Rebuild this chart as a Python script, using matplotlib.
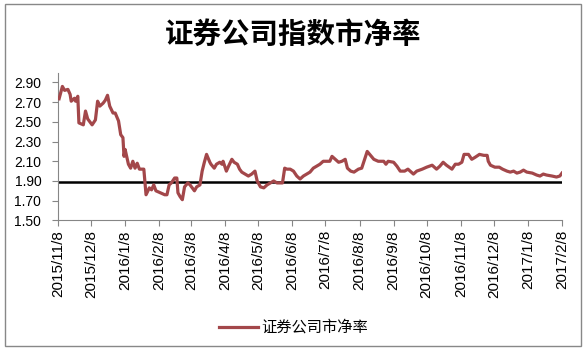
import matplotlib
matplotlib.use("Agg")
import matplotlib.pyplot as plt
from matplotlib.patches import Rectangle
import pandas as pd

plt.rcParams['font.family'] = ['Liberation Sans', 'Noto Sans CJK SC', 'DejaVu Sans']

# 证券公司指数市净率
dates = [
    "2015-11-09", "2015-11-12", "2015-11-14", "2015-11-17", "2015-11-19", "2015-11-20",
    "2015-11-23", "2015-11-24", "2015-11-26", "2015-11-27", "2015-12-01", "2015-12-03",
    "2015-12-05", "2015-12-09", "2015-12-12", "2015-12-14", "2015-12-16", "2015-12-19",
    "2015-12-21", "2015-12-23", "2015-12-25", "2015-12-28", "2015-12-30", "2016-01-02",
    "2016-01-04", "2016-01-06", "2016-01-07", "2016-01-08", "2016-01-11", "2016-01-13",
    "2016-01-15", "2016-01-17", "2016-01-19", "2016-01-21", "2016-01-24", "2016-01-25",
    "2016-01-27", "2016-01-30", "2016-02-01", "2016-02-03", "2016-02-05", "2016-02-09",
    "2016-02-13", "2016-02-15", "2016-02-17", "2016-02-19", "2016-02-22", "2016-02-24",
    "2016-02-25", "2016-02-27", "2016-02-29", "2016-03-02", "2016-03-05", "2016-03-07",
    "2016-03-09", "2016-03-11", "2016-03-13", "2016-03-16", "2016-03-18", "2016-03-20",
    "2016-03-22", "2016-03-25", "2016-03-26", "2016-03-29", "2016-03-31", "2016-04-03",
    "2016-04-05", "2016-04-06", "2016-04-09", "2016-04-11", "2016-04-14", "2016-04-16",
    "2016-04-19", "2016-04-21", "2016-04-23", "2016-04-26", "2016-04-29", "2016-05-02",
    "2016-05-05", "2016-05-07", "2016-05-10", "2016-05-13", "2016-05-16", "2016-05-19",
    "2016-05-22", "2016-05-25", "2016-05-28", "2016-05-30", "2016-06-01", "2016-06-03",
    "2016-06-06", "2016-06-09", "2016-06-12", "2016-06-15", "2016-06-18", "2016-06-21",
    "2016-06-24", "2016-06-27", "2016-06-30", "2016-07-03", "2016-07-06", "2016-07-09",
    "2016-07-12", "2016-07-14", "2016-07-17", "2016-07-20", "2016-07-23", "2016-07-26",
    "2016-07-28", "2016-07-31", "2016-08-03", "2016-08-07", "2016-08-10", "2016-08-15",
    "2016-08-18", "2016-08-21", "2016-08-25", "2016-08-30", "2016-09-01", "2016-09-03",
    "2016-09-08", "2016-09-11", "2016-09-14", "2016-09-18", "2016-09-21", "2016-09-24",
    "2016-09-26", "2016-09-29", "2016-10-04", "2016-10-08", "2016-10-13", "2016-10-17",
    "2016-10-20", "2016-10-23", "2016-10-26", "2016-10-31", "2016-11-03", "2016-11-06",
    "2016-11-09", "2016-11-11", "2016-11-15", "2016-11-18", "2016-11-21", "2016-11-25",
    "2016-11-29", "2016-12-02", "2016-12-03", "2016-12-05", "2016-12-09", "2016-12-13",
    "2016-12-16", "2016-12-20", "2016-12-23", "2016-12-26", "2016-12-29", "2017-01-01",
    "2017-01-04", "2017-01-07", "2017-01-12", "2017-01-16", "2017-01-19", "2017-01-22",
    "2017-01-25", "2017-01-30", "2017-02-03", "2017-02-06", "2017-02-08",
]
pb = [
    2.735, 2.86, 2.82, 2.83, 2.78, 2.71,
    2.74, 2.71, 2.76, 2.49, 2.47, 2.61,
    2.53, 2.47, 2.52, 2.71, 2.66, 2.69,
    2.72, 2.77, 2.66, 2.59, 2.59, 2.51,
    2.37, 2.34, 2.15, 2.22, 2.07, 2.03,
    2.10, 2.03, 2.08, 2.02, 2.02, 2.02,
    1.76, 1.83, 1.81, 1.86, 1.80, 1.78,
    1.76, 1.76, 1.86, 1.88, 1.93, 1.93,
    1.78, 1.74, 1.71, 1.84, 1.88, 1.86,
    1.83, 1.80, 1.84, 1.86, 2.00, 2.09,
    2.17, 2.09, 2.07, 2.03, 2.07, 2.09,
    2.07, 2.10, 2.00, 2.05, 2.12, 2.09,
    2.07, 2.02, 1.99, 1.97, 1.95, 1.97,
    2.00, 1.90, 1.84, 1.83, 1.86, 1.88,
    1.90, 1.88, 1.88, 1.88, 2.03, 2.02,
    2.02, 2.00, 1.95, 1.92, 1.95, 1.97,
    1.99, 2.03, 2.05, 2.07, 2.10, 2.10,
    2.10, 2.15, 2.12, 2.09, 2.10, 2.12,
    2.03, 2.00, 1.99, 2.02, 2.03, 2.20,
    2.16, 2.12, 2.10, 2.10, 2.07, 2.10,
    2.09, 2.05, 2.00, 2.00, 2.02, 1.99,
    1.97, 2.00, 2.02, 2.04, 2.06, 2.02,
    2.05, 2.09, 2.06, 2.02, 2.07, 2.07,
    2.09, 2.17, 2.17, 2.12, 2.14, 2.17,
    2.16, 2.16, 2.10, 2.06, 2.04, 2.04,
    2.02, 2.00, 1.99, 2.00, 1.98, 1.99,
    2.01, 1.99, 1.98, 1.96, 1.95, 1.97,
    1.96, 1.95, 1.94, 1.95, 1.98,
]
ref_level = 1.89
y_ticks = [1.50, 1.70, 1.90, 2.10, 2.30, 2.50, 2.70, 2.90]
x_start, x_end = "2015-11-08", "2017-02-08"

x = pd.to_datetime(dates)
# monthly ticks on the 8th
month_ticks = pd.date_range("2015-11-01", x_end, freq="MS") + pd.Timedelta(days=7)

fig = plt.figure(figsize=(5.87, 3.52), dpi=100)
ax = fig.add_axes([0.0988, 0.374, 0.8586, 0.4196])

ax.plot(x, pb, color="#A3474A", linewidth=2.3, label="证券公司市净率", zorder=3)
ax.axhline(ref_level, color="black", linewidth=1.8, zorder=2)

ax.set_xlim(pd.Timestamp(x_start), pd.Timestamp(x_end))
ax.set_ylim(1.5, 3.0)
ax.set_yticks(y_ticks)
ax.set_yticklabels([f"{v:.2f}" for v in y_ticks], fontsize=10)
ax.set_xticks(month_ticks)
ax.set_xticklabels([f"{d.year}/{d.month}/{d.day}" for d in month_ticks],
                   rotation=90, fontsize=11)

for s in ["top", "right"]:
    ax.spines[s].set_visible(False)
for s in ["left", "bottom"]:
    ax.spines[s].set_color("#868686")
ax.tick_params(axis="both", direction="out", length=4, color="#868686")
ax.tick_params(axis="y", pad=8)
ax.tick_params(axis="x", pad=3)

fig.text(0.5, 0.90, "证券公司指数市净率", ha="center", va="center",
         fontsize=20.5, fontweight="bold", family=["Noto Sans CJK SC"])

leg = fig.legend(loc="center", bbox_to_anchor=(0.5, 0.07), frameon=False,
                 fontsize=11, handlelength=2.6, handletextpad=0.2)
for t in leg.get_texts():
    t.set_family(["Noto Sans CJK SC"])

fig.patches.append(Rectangle((5 / 587, 6 / 352), 576 / 587, 342 / 352,
                             transform=fig.transFigure, fill=False,
                             edgecolor="#888888", linewidth=1))

fig.savefig("out.png", dpi=100)
